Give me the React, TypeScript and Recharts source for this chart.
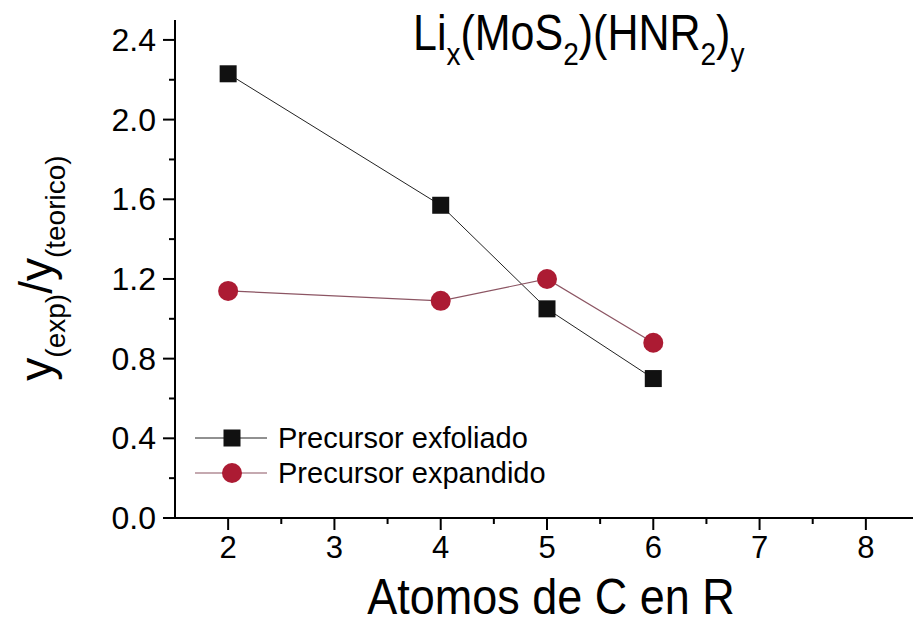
import React from 'react';
import { LineChart, Line, XAxis, YAxis, Customized } from 'recharts';

// carbon atoms in R, and the y(exp)/y(teorico) ratio for each precursor
const carbons = [2, 4, 5, 6];
const exfoliado = [2.23, 1.57, 1.05, 0.7];
const expandido = [1.14, 1.09, 1.2, 0.88];
const seriesNames = ['Precursor exfoliado', 'Precursor expandido'];

const xTicks = [2, 2.5, 3, 3.5, 4, 4.5, 5, 5.5, 6, 6.5, 7, 7.5, 8];
const yTicks = [0, 0.2, 0.4, 0.6, 0.8, 1.0, 1.2, 1.4, 1.6, 1.8, 2.0, 2.2, 2.4];

const data = carbons.map((c, i) => ({ c, exf: exfoliado[i], exp: expandido[i] }));

const FONT = '"Liberation Sans", Arial, sans-serif';
const SQUARE = '#111111';
const CIRCLE = '#ac1b33';
const SQUARE_LINE = '#222222';
const CIRCLE_LINE = '#8c5563';

// stretch a text vertically around its baseline (the titles use a tall face)
const tall = (y: number, k: number) => `translate(0, ${y}) scale(1, ${k}) translate(0, ${-y})`;

const XTick = ({ x, y, payload }: any) => {
  const major = Number.isInteger(payload.value);
  return (
    <g>
      <line x1={x} x2={x} y1={y} y2={y + (major ? 12 : 6)} stroke="#000" strokeWidth={2} />
      {major && (
        <text x={x} y={y + 40} textAnchor="middle" fontSize={31} fontFamily={FONT} fill="#000">
          {payload.value}
        </text>
      )}
    </g>
  );
};

const YTick = ({ x, y, payload }: any) => {
  const major = Math.round(payload.value * 10) % 4 === 0;
  return (
    <g>
      <line x1={x - (major ? 12 : 6)} x2={x} y1={y} y2={y} stroke="#000" strokeWidth={2} />
      {major && (
        <text x={x - 19} y={y + 11} textAnchor="end" fontSize={32} fontFamily={FONT} fill="#000">
          {payload.value.toFixed(1)}
        </text>
      )}
    </g>
  );
};

const SquareDot = ({ cx, cy }: any) => (
  <rect x={cx - 8.5} y={cy - 8.5} width={17} height={17} fill={SQUARE} />
);

const CircleDot = ({ cx, cy }: any) => <circle cx={cx} cy={cy} r={10} fill={CIRCLE} />;

const Texts = () => (
  <g fontFamily={FONT} fill="#000">
    <text x={413} y={50} fontSize={43} transform={tall(50, 1.14)}>
      <tspan>Li</tspan>
      <tspan fontSize={28} dy={13}>x</tspan>
      <tspan dy={-13}>(MoS</tspan>
      <tspan fontSize={28} dy={13}>2</tspan>
      <tspan dy={-13}>)(HNR</tspan>
      <tspan fontSize={28} dy={13}>2</tspan>
      <tspan dy={-13}>)</tspan>
      <tspan fontSize={28} dy={13}>y</tspan>
    </text>
    <text x={52} y={268} fontSize={46} textAnchor="middle" transform="rotate(-90, 52, 268)">
      <tspan>y</tspan>
      <tspan fontSize={28} dy={13}>(exp)</tspan>
      <tspan dy={-13}>/y</tspan>
      <tspan fontSize={28} dy={13}>(teorico)</tspan>
    </text>
    <text x={551} y={614} fontSize={45} textAnchor="middle" transform={tall(614, 1.12)}>
      Atomos de C en R
    </text>
    {/* legend */}
    <line x1={195} x2={267} y1={438} y2={438} stroke={SQUARE_LINE} strokeWidth={1} />
    <rect x={223.5} y={429.5} width={17} height={17} fill={SQUARE} />
    <text x={278} y={448} fontSize={29}>{seriesNames[0]}</text>
    <line x1={195} x2={267} y1={473} y2={473} stroke={CIRCLE_LINE} strokeWidth={1.2} />
    <circle cx={232} cy={473} r={10} fill={CIRCLE} />
    <text x={278} y={483} fontSize={29}>{seriesNames[1]}</text>
  </g>
);

export default function App() {
  return (
    <div style={{ position: 'absolute', left: 0, top: 0, width: 913, height: 627, overflow: 'hidden', background: '#fff' }}>
      <LineChart width={919} height={627} data={data} margin={{ top: 20, right: 0, bottom: 0, left: 0 }}>
        <XAxis
          type="number"
          dataKey="c"
          domain={[1.5, 8.5]}
          ticks={xTicks}
          interval={0}
          height={109}
          tickSize={0}
          tickMargin={0}
          tickLine={false}
          tick={<XTick />}
          axisLine={{ stroke: '#000', strokeWidth: 2 }}
        />
        <YAxis
          type="number"
          domain={[0, 2.5]}
          ticks={yTicks}
          interval={0}
          width={175}
          tickSize={0}
          tickMargin={0}
          tickLine={false}
          tick={<YTick />}
          axisLine={{ stroke: '#000', strokeWidth: 2 }}
        />
        <Line
          dataKey="exf"
          name={seriesNames[0]}
          stroke={SQUARE_LINE}
          strokeWidth={1}
          dot={<SquareDot />}
          isAnimationActive={false}
        />
        <Line
          dataKey="exp"
          name={seriesNames[1]}
          stroke={CIRCLE_LINE}
          strokeWidth={1.2}
          dot={<CircleDot />}
          isAnimationActive={false}
        />
        <Customized component={<Texts />} />
      </LineChart>
    </div>
  );
}
